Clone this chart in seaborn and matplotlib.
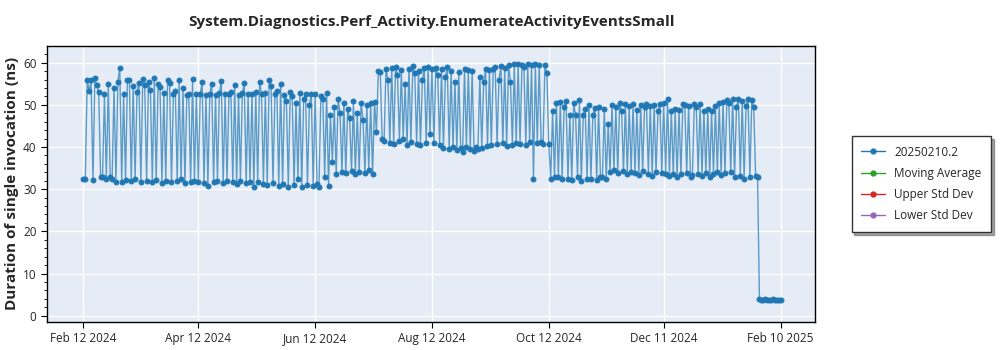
import pandas as pd
import numpy as np
import matplotlib
matplotlib.use("Agg")
import matplotlib.pyplot as plt
import matplotlib.dates as mdates
from matplotlib.lines import Line2D
import seaborn as sns

# daily values (ns), one list per stretch of dates
feb_mar = [32.5, 32.3, 56.0, 53.2, 55.8, 32.2, 56.3, 54.6, 53.0, 32.8, 33.0, 52.5, 32.5, 55.0, 32.8,
           32.4, 54.0, 31.8, 55.5, 58.8, 31.8, 52.5, 32.2, 55.8, 56.0, 31.9, 54.5, 32.5, 53.0, 55.2]
mar_apr = [31.6, 56.2, 54.8, 32.0, 55.5, 53.5, 31.8, 56.4, 32.1, 55.0, 54.2, 31.5, 52.8, 32.0, 56.0,
           55.3, 31.6, 52.5, 53.2, 31.9, 55.8, 32.3, 54.0, 31.4, 52.4, 52.6, 31.7, 56.2, 32.0, 52.6]
apr_may = [31.8, 52.5, 55.5, 31.5, 52.4, 30.8, 52.6, 55.0, 31.7, 52.3, 32.0, 52.8, 55.6, 31.4, 52.5,
           31.9, 52.5, 53.0, 31.6, 54.8, 31.2, 52.4, 32.0, 52.8, 55.2, 31.5, 52.5, 31.8, 52.6, 30.5]
may_jun = [53.0, 31.6, 55.5, 52.6, 31.3, 52.8, 31.0, 56.0, 54.5, 31.5, 52.5, 53.2, 30.8, 55.0, 31.2,
           52.3, 51.0, 30.6, 53.0, 52.0, 31.0, 50.5, 32.5, 52.8, 30.6, 51.5, 52.5, 31.0, 50.0, 52.6, 30.8]
jun_jul = [52.5, 31.2, 30.5, 52.0, 51.5, 33.0, 52.8, 30.8, 47.5, 36.5, 49.5, 33.5, 51.5, 48.0, 34.0,
           50.5, 33.8, 49.0, 46.8, 34.2, 51.0, 33.5, 48.0, 34.0, 50.5, 46.5, 33.8, 50.0, 34.5, 50.5, 33.5, 50.8]
jul_aug = [43.5, 58.0, 57.8, 42.0, 41.5, 58.5, 56.0, 41.0, 58.8, 40.8, 59.0, 57.0, 41.5, 58.2, 42.0,
           55.0, 40.5, 58.6, 41.2, 59.2, 57.5, 40.8, 58.0, 40.5, 56.0, 58.7, 41.0, 59.0, 43.0, 58.5]
aug_sep = [41.0, 58.8, 57.0, 40.5, 58.5, 39.8, 56.5, 58.9, 39.5, 58.0, 40.0, 55.5, 39.2, 57.8, 39.8,
           38.8, 58.5, 40.0, 58.2, 39.5, 58.0, 39.0, 40.0, 39.5, 56.5, 39.8, 55.5, 58.5, 40.2, 58.3]
sep_oct = [40.5, 58.5, 59.0, 40.8, 56.0, 59.2, 41.0, 58.8, 40.2, 59.5, 55.5, 40.5, 59.6, 41.0, 59.8,
           40.8, 59.5, 59.0, 40.6, 59.6, 41.2, 59.5, 32.5, 59.7, 41.0, 59.5, 41.2, 40.8, 59.4, 57.5]
oct_nov = [40.8, 32.5, 48.5, 33.0, 50.5, 32.8, 50.8, 32.5, 49.5, 51.0, 32.3, 47.5, 32.2, 50.5, 47.5,
           32.8, 51.2, 32.0, 47.5, 49.0, 32.3, 50.0, 32.5, 47.5, 49.2, 32.2, 49.5, 32.8, 33.0, 49.0, 32.4]
nov_dec = [45.5, 34.0, 50.0, 34.5, 49.5, 33.8, 50.5, 48.5, 34.2, 50.3, 33.5, 49.8, 34.0, 50.2, 33.8,
           48.8, 33.4, 50.0, 34.2, 49.5, 50.3, 33.6, 49.8, 33.2, 50.0, 34.0, 48.5, 50.2, 33.8, 50.5]
dec_jan = [33.6, 51.5, 33.2, 48.5, 33.5, 49.0, 32.8, 48.8, 33.5, 50.3, 50.0, 33.8, 49.8, 33.0, 33.4,
           50.2, 49.5, 33.6, 50.3, 33.2, 48.5, 33.8, 49.0, 32.8, 48.6, 33.5, 49.8, 34.0, 50.4, 33.3]
jan_late = [50.8, 33.8, 51.2, 50.5, 34.0, 51.5, 32.8, 49.5, 51.3, 33.2, 51.0, 32.5, 49.8, 51.4, 33.0,
            51.2, 49.5, 33.2, 33.0]
feb_2025 = [3.9, 3.8, 3.7, 3.9, 3.8, 3.8, 3.7, 3.9, 3.8, 3.8, 3.7, 3.8]

values = (feb_mar + mar_apr + apr_may + may_jun + jun_jul + jul_aug + aug_sep + sep_oct
          + oct_nov + nov_dec + dec_jan + jan_late + feb_2025)
dates = pd.date_range("2024-02-12", periods=len(values), freq="D")
df = pd.DataFrame({"date": dates, "duration": values})

tick_dates = pd.to_datetime(["2024-02-12", "2024-04-12", "2024-06-12", "2024-08-12",
                             "2024-10-12", "2024-12-11", "2025-02-10"])

series_names = ["20250210.2", "Moving Average", "Upper Std Dev", "Lower Std Dev"]
series_colors = ["#1f77b4", "#2ca02c", "#d62728", "#9467bd"]

sns.set_style("white")
plt.rcParams["font.family"] = ["Open Sans", "DejaVu Sans"]

fig = plt.figure(figsize=(10, 3.5), dpi=100)
ax = fig.add_axes([0.047, 0.08, 0.768, 0.789])
ax.set_facecolor("#E5ECF6")

sns.lineplot(data=df, x="date", y="duration", ax=ax, color="#1f77b4", linewidth=1, alpha=0.7)
sns.scatterplot(data=df, x="date", y="duration", ax=ax, color="#1f77b4", s=14,
                edgecolor="#1f77b4", linewidth=0.5, zorder=3)

ax.set_xlim(pd.Timestamp("2024-01-24"), pd.Timestamp("2025-02-28"))
ax.set_ylim(-1.5, 64)
ax.set_xticks(tick_dates)
ax.xaxis.set_major_formatter(mdates.DateFormatter("%b %d %Y"))
ax.set_yticks(range(0, 61, 10))
ax.set_yticks(range(0, 64, 2), minor=True)
ax.grid(True, which="major", color="white", linewidth=1)
ax.set_axisbelow(True)
ax.tick_params(axis="both", which="major", labelsize=8.5, length=4, color="black", bottom=True, left=True)
ax.tick_params(axis="y", which="minor", length=2, color="black", left=True)
for sp in ax.spines.values():
    sp.set_color("black")
    sp.set_linewidth(1)

ax.set_xlabel("")
ax.set_ylabel("Duration of single invocation (ns)", fontsize=11, fontweight="bold", labelpad=3)
ax.set_title("System.Diagnostics.Perf_Activity.EnumerateActivityEventsSmall",
             fontsize=11, fontweight="bold", pad=14)

handles = [Line2D([0], [0], color=c, marker="o", markersize=3.5, linewidth=1) for c in series_colors]
leg = ax.legend(handles, series_names, loc="center left", bbox_to_anchor=(1.04, 0.5),
                fontsize=8.5, frameon=True, fancybox=False, shadow=True, borderpad=0.8,
                labelspacing=0.7, handlelength=2)
leg.get_frame().set_edgecolor("#333333")
leg.get_frame().set_linewidth(1)

fig.savefig("out.png", dpi=100)
